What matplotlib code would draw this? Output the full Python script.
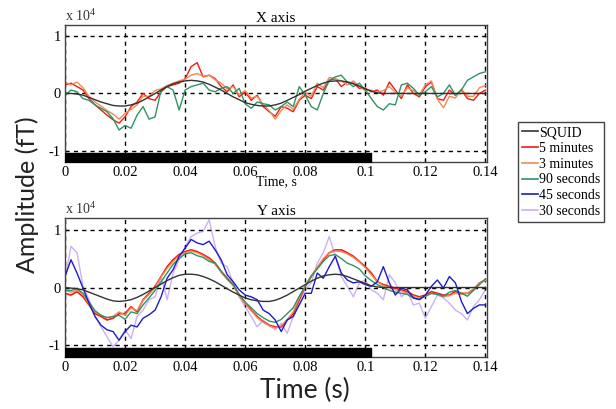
import matplotlib.pyplot as plt
import numpy as np

# sample times (s), one sample every 2 ms
t = np.round(np.arange(71) * 0.002, 3)

# X axis panel (x 10^4 fT)
sq_x = [0.00, 0.00, -0.01, -0.03, -0.07, -0.11, -0.15, -0.18, -0.21, -0.22,
        -0.22, -0.20, -0.17, -0.12, -0.06, 0.00, 0.06, 0.12, 0.17, 0.20,
        0.22, 0.23, 0.22, 0.20, 0.16, 0.11, 0.06, 0.00, -0.06, -0.11,
        -0.16, -0.19, -0.21, -0.22, -0.22, -0.20, -0.17, -0.12, -0.07, -0.02,
        0.04, 0.09, 0.14, 0.18, 0.21, 0.22, 0.22, 0.20, 0.17, 0.13,
        0.08, 0.04, 0.01, 0.00, 0.00, 0.00, 0.00, 0.00, 0.00, 0.00,
        0.00, 0.00, 0.00, 0.00, 0.00, 0.00, 0.00, 0.00, 0.00, 0.00,
        0.00]
red_x = [0.15, 0.18, 0.12, 0.06, -0.09, -0.20, -0.29, -0.38, -0.46, -0.52,
         -0.41, -0.23, -0.15, 0.00, -0.09, -0.12, 0.03, 0.12, 0.15, 0.18,
         0.26, 0.47, 0.54, 0.29, 0.32, 0.26, 0.12, 0.03, 0.15, -0.06,
         0.03, -0.12, -0.03, -0.23, -0.32, -0.40, -0.23, -0.26, -0.32, -0.12,
         -0.03, -0.09, 0.12, 0.06, 0.23, 0.26, 0.12, 0.20, 0.18, 0.09,
         0.09, 0.03, 0.06, -0.03, 0.20, 0.06, -0.09, 0.15, 0.00, -0.06,
         0.12, 0.20, -0.09, -0.12, 0.06, -0.03, 0.06, -0.09, -0.12, 0.00,
         0.06]
or_x = [0.20, 0.15, 0.20, 0.10, -0.05, -0.15, -0.22, -0.30, -0.36, -0.45,
        -0.35, -0.28, -0.20, -0.05, -0.05, 0.05, 0.08, 0.14, 0.18, 0.22,
        0.25, 0.32, 0.35, 0.30, 0.32, 0.24, 0.18, 0.08, 0.12, -0.02,
        0.05, -0.08, -0.05, -0.20, -0.30, -0.45, -0.30, -0.20, -0.28, -0.10,
        0.02, -0.05, 0.18, 0.10, 0.28, 0.26, 0.22, 0.15, 0.22, 0.12,
        0.05, 0.06, 0.02, 0.05, 0.12, 0.02, -0.05, 0.10, 0.05, -0.02,
        0.15, 0.22, -0.10, -0.25, -0.05, -0.08, 0.08, -0.05, -0.05, 0.10,
        0.14]
gr_x = [-0.03, 0.06, 0.03, -0.09, -0.12, -0.20, -0.26, -0.32, -0.44, -0.64,
        -0.56, -0.61, -0.38, -0.23, -0.45, -0.41, 0.06, 0.12, 0.06, -0.29,
        0.06, 0.12, 0.15, 0.18, 0.06, 0.03, 0.09, 0.12, 0.00, 0.09,
        -0.18, -0.26, -0.15, -0.18, -0.20, -0.29, -0.23, -0.15, -0.23, 0.12,
        -0.03, -0.23, -0.29, 0.00, 0.23, 0.29, 0.32, 0.20, 0.12, 0.18,
        0.06, -0.09, -0.23, -0.29, -0.18, -0.20, 0.15, 0.18, 0.09, -0.03,
        0.03, 0.12, -0.06, 0.00, 0.15, -0.03, 0.06, 0.23, 0.29, 0.35,
        0.38]

# Y axis panel (x 10^4 fT)
sq_y = [0.00, -0.01, -0.02, -0.04, -0.08, -0.12, -0.16, -0.20, -0.23, -0.24,
        -0.23, -0.21, -0.17, -0.12, -0.06, 0.00, 0.06, 0.12, 0.17, 0.21,
        0.23, 0.23, 0.22, 0.19, 0.15, 0.10, 0.04, -0.02, -0.08, -0.13,
        -0.18, -0.21, -0.23, -0.24, -0.24, -0.22, -0.18, -0.13, -0.07, -0.01,
        0.05, 0.11, 0.16, 0.20, 0.22, 0.23, 0.22, 0.19, 0.15, 0.11,
        0.07, 0.03, 0.01, 0.00, 0.00, 0.00, 0.00, 0.00, 0.00, 0.00,
        0.00, 0.00, 0.00, 0.00, 0.00, 0.00, 0.00, 0.00, 0.00, 0.00,
        0.00]
red_y = [-0.10, -0.13, -0.07, -0.16, -0.30, -0.45, -0.50, -0.56, -0.53, -0.45,
         -0.45, -0.33, -0.42, -0.21, -0.10, 0.02, 0.19, 0.36, 0.48, 0.57,
         0.62, 0.65, 0.62, 0.57, 0.51, 0.42, 0.28, 0.16, 0.05, -0.13,
         -0.27, -0.39, -0.50, -0.59, -0.65, -0.68, -0.68, -0.56, -0.45, -0.21,
         0.02, 0.19, 0.34, 0.48, 0.60, 0.65, 0.65, 0.60, 0.54, 0.45,
         0.36, 0.25, 0.10, 0.05, 0.02, -0.01, -0.04, -0.07, -0.13, -0.16,
         -0.13, -0.07, -0.10, -0.13, -0.13, -0.07, -0.10, -0.10, -0.04, 0.08,
         0.13]
or_y = [-0.05, -0.08, -0.05, -0.12, -0.28, -0.42, -0.48, -0.52, -0.50, -0.42,
        -0.48, -0.35, -0.40, -0.22, -0.12, 0.00, 0.18, 0.33, 0.45, 0.55,
        0.60, 0.63, 0.60, 0.55, 0.48, 0.40, 0.26, 0.14, 0.03, -0.15,
        -0.28, -0.40, -0.52, -0.60, -0.66, -0.70, -0.66, -0.55, -0.42, -0.18,
        0.03, 0.20, 0.35, 0.50, 0.60, 0.63, 0.62, 0.58, 0.52, 0.44,
        0.34, 0.22, 0.10, 0.03, 0.00, -0.04, -0.06, -0.10, -0.15, -0.18,
        -0.15, -0.10, -0.12, -0.16, -0.14, -0.10, -0.12, -0.10, -0.02, 0.08,
        0.12]
gr_y = [-0.05, -0.05, -0.02, -0.10, -0.25, -0.40, -0.48, -0.52, -0.50, -0.48,
        -0.55, -0.42, -0.45, -0.30, -0.18, -0.05, 0.10, 0.25, 0.40, 0.50,
        0.58, 0.60, 0.55, 0.52, 0.45, 0.42, 0.28, 0.15, 0.05, -0.12,
        -0.25, -0.35, -0.45, -0.52, -0.58, -0.60, -0.55, -0.45, -0.35, -0.15,
        0.02, 0.20, 0.32, 0.45, 0.55, 0.57, 0.50, 0.42, 0.38, 0.32,
        0.20, 0.12, 0.05, 0.00, -0.05, -0.08, -0.10, -0.12, -0.18, -0.20,
        -0.15, -0.10, -0.12, -0.15, -0.08, -0.05, -0.10, -0.15, -0.05, 0.05,
        0.15]
bl_y = [0.19, 0.48, 0.25, -0.01, -0.27, -0.50, -0.65, -0.73, -0.76, -0.91,
        -0.76, -0.65, -0.68, -0.53, -0.47, -0.39, -0.16, 0.16, 0.31, 0.54,
        0.68, 0.83, 0.77, 0.74, 0.80, 0.65, 0.48, 0.22, 0.10, -0.04,
        -0.13, -0.16, -0.21, -0.39, -0.45, -0.56, -0.76, -0.56, -0.50, -0.30,
        -0.10, -0.10, 0.25, 0.16, 0.36, 0.54, 0.25, 0.13, 0.08, 0.10,
        0.05, 0.02, 0.10, 0.36, 0.08, -0.13, -0.01, -0.04, -0.18, -0.21,
        -0.13, 0.02, 0.13, -0.01, 0.19, 0.08, -0.24, -0.45, -0.36, -0.30,
        -0.30]
pu_y = [0.13, 0.71, 0.60, 0.02, -0.21, -0.50, -0.68, -0.85, -1.02, -0.91,
        -0.73, -0.88, -0.50, -0.39, -0.21, -0.16, 0.19, -0.21, 0.25, 0.48,
        0.71, 0.88, 0.94, 0.97, 1.17, 0.71, 0.42, 0.36, 0.08, -0.16,
        -0.33, -0.50, -0.68, -0.56, -0.65, -0.73, -0.62, -0.79, -0.50, -0.24,
        -0.04, 0.08, 0.42, 0.60, 0.88, 0.54, 0.19, 0.02, -0.16, 0.08,
        0.13, -0.04, -0.10, -0.21, 0.22, 0.08, -0.16, -0.07, -0.30, -0.27,
        -0.53, -0.33, -0.13, -0.18, -0.27, -0.39, -0.45, -0.56, -0.33, -0.21,
        -0.04]

stim = (0.0, 0.102)   # stimulus on/off (black bar)
labels = ['SQUID', '5 minutes', '3 minutes', '90 seconds', '45 seconds', '30 seconds']
colors = ['#333333', '#ee1c14', '#f28a52', '#2e9466', '#1c1cc8', '#cdb0f2']

serif = 'Liberation Serif'
sans = 'Lato'

fig = plt.figure(figsize=(6.16, 4.09), dpi=100)
ax1 = fig.add_axes([0.1055, 0.604, 0.685, 0.335])
ax2 = fig.add_axes([0.1055, 0.127, 0.685, 0.340])


def style(ax, title):
    ax.set_xlim(0, 0.1405)
    ax.set_ylim(-1.2, 1.2)
    ax.set_xticks([0, 0.02, 0.04, 0.06, 0.08, 0.1, 0.12, 0.14])
    ax.set_xticklabels(['0', '0.02', '0.04', '0.06', '0.08', '0.1', '0.12', '0.14'])
    ax.set_yticks([-1, 0, 1])
    ax.set_yticklabels(['-1', '0', '1'])
    ax.tick_params(direction='in', length=2, labelsize=10.5, pad=3)
    for lab in ax.get_xticklabels() + ax.get_yticklabels():
        lab.set_family(serif)
    ax.grid(True, color='k', linestyle=(0, (3, 3)), linewidth=1.0)
    for s in ax.spines.values():
        s.set_color('#444444')
        s.set_linewidth(1.0)
    ax.broken_barh([(stim[0], stim[1] - stim[0])], (-1.2, 0.16), color='k', zorder=3)
    ax.set_title(title, family=serif, fontsize=11, pad=1)
    ax.text(0.0, 1.01, r'x 10$^{\mathregular{4}}$', transform=ax.transAxes,
            family=serif, fontsize=10, color='#333333', va='bottom')


style(ax1, 'X axis')
ax1.plot(t, red_x, color=colors[1], lw=1)
ax1.plot(t, or_x, color=colors[2], lw=1)
ax1.plot(t, gr_x, color=colors[3], lw=1)
ax1.plot(t, sq_x, color=colors[0], lw=1)
ax1.set_xlabel('Time, s', family=serif, fontsize=10, labelpad=-3)

style(ax2, 'Y axis')
ax2.plot(t, pu_y, color=colors[5], lw=1, zorder=1)
ax2.plot(t, red_y, color=colors[1], lw=1.2)
ax2.plot(t, or_y, color=colors[2], lw=1)
ax2.plot(t, gr_y, color=colors[3], lw=1)
ax2.plot(t, bl_y, color=colors[4], lw=1)
ax2.plot(t, sq_y, color=colors[0], lw=1)

handles = [plt.Line2D([], [], color=c, lw=1.2) for c in colors]
leg = fig.legend(handles, labels, loc='upper left', bbox_to_anchor=(0.841, 0.702),
                 prop={'family': serif, 'size': 10}, handlelength=1.1,
                 handletextpad=0.1, labelspacing=0.2, borderpad=0.3,
                 borderaxespad=0, fancybox=False, framealpha=1)
leg.get_frame().set_edgecolor('#444444')
leg.get_frame().set_linewidth(1.0)

fig.text(0.044, 0.523, 'Amplitude (fT)', rotation=90, family=sans, fontsize=18,
         ha='center', va='center', color='#222222')
fig.text(0.495, 0.046, 'Time (s)', family=sans, fontsize=19,
         ha='center', va='center', color='#222222')

fig.savefig('out.png', dpi=100)
